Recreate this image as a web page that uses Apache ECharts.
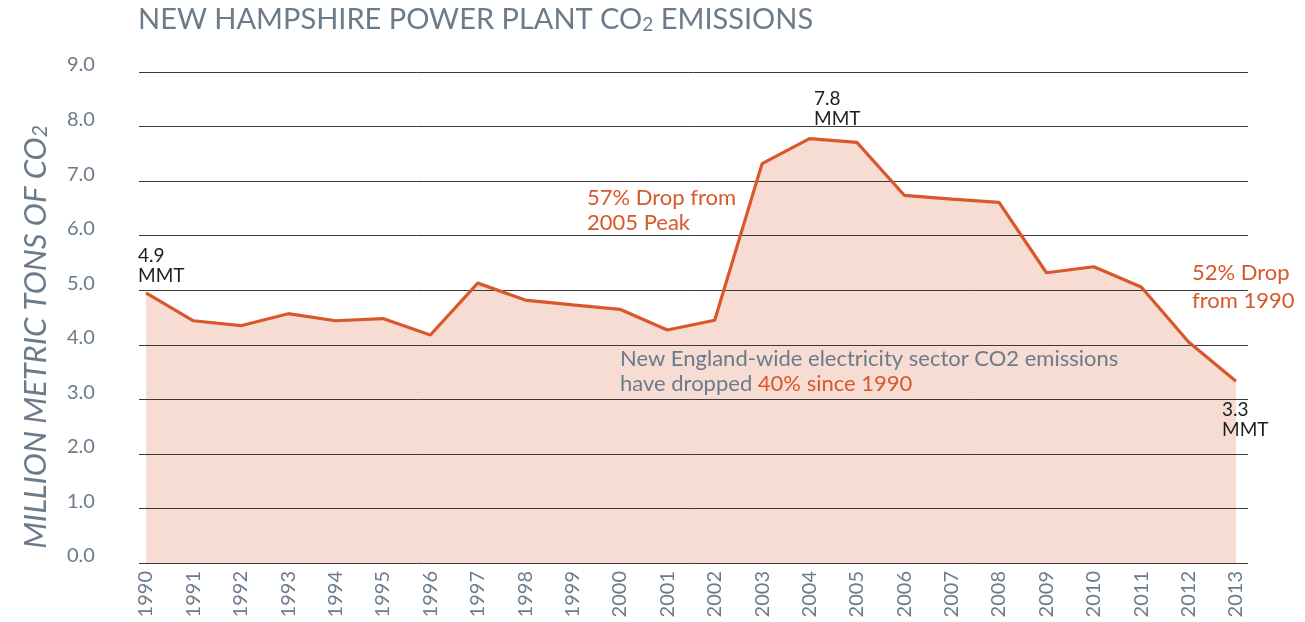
<!DOCTYPE html>
<html>
<head>
<meta charset="utf-8">
<script src="https://cdn.jsdelivr.net/npm/echarts@6/dist/echarts.min.js"></script>
<style>
html,body{margin:0;padding:0;background:#fff;}
#chart{width:1305px;height:622px;}
</style>
</head>
<body>
<div id="chart"></div>
<script>
const years = ['1990','1991','1992','1993','1994','1995','1996','1997','1998','1999','2000','2001','2002','2003','2004','2005','2006','2007','2008','2009','2010','2011','2012','2013'];
const emissions = [4.95, 4.44, 4.35, 4.57, 4.44, 4.48, 4.18, 5.13, 4.82, 4.73, 4.65, 4.27, 4.45, 7.32, 7.78, 7.71, 6.74, 6.67, 6.61, 5.32, 5.43, 5.06, 4.05, 3.33];
const yMin = 0, yMax = 9, yStep = 1;

const GRAY = '#6b7b8a';
const ORANGE = '#d9582b';
const FILL = '#f6dcd3';
const FONT = 'Lato';

const chart = echarts.init(document.getElementById('chart'));
chart.setOption({
  backgroundColor: '#fff',
  animation: false,
  grid: [
    {left: 139, right: 57, top: 72, bottom: 59},
    {left: 146, right: 69, top: 72, bottom: 59}
  ],
  xAxis: [
    {gridIndex: 0, type: 'category', data: years, show: false},
    {gridIndex: 1, type: 'category', data: years, boundaryGap: false,
     axisLine: {show: false}, axisTick: {show: false},
     axisLabel: {rotate: 90, margin: 8, color: GRAY, fontSize: 20, fontFamily: FONT, interval: 0}}
  ],
  yAxis: [
    {gridIndex: 0, type: 'value', min: yMin, max: yMax, interval: yStep, z: 2,
     axisLine: {show: false}, axisTick: {show: false},
     splitLine: {show: true, lineStyle: {color: '#3a3a3a', width: 1}},
     axisLabel: {margin: 0, align: 'right', verticalAlign: 'bottom',
       formatter: v => '{v|' + v.toFixed(1) + '}',
       rich: {v: {width: 72, align: 'left', color: GRAY, fontSize: 20, fontFamily: FONT, lineHeight: 14}}}},
    {gridIndex: 1, type: 'value', min: yMin, max: yMax, interval: yStep, show: false}
  ],
  series: [
    {type: 'line', xAxisIndex: 1, yAxisIndex: 1, data: emissions, z: 1,
     symbol: 'none', lineStyle: {width: 0, opacity: 0},
     areaStyle: {color: FILL, opacity: 1}},
    {type: 'line', xAxisIndex: 1, yAxisIndex: 1, data: emissions, z: 3,
     symbol: 'none', lineStyle: {color: ORANGE, width: 3.2}}
  ],
  graphic: [
    {type: 'text', left: 138, top: 5, z: 10, style: {
      text: '{a|NEW HAMPSHIRE POWER PLANT CO}{b|2}{a| EMISSIONS}',
      rich: {
        a: {fontSize: 29, fontFamily: FONT, fill: GRAY, verticalAlign: 'bottom', lineHeight: 34},
        b: {fontSize: 19, fontFamily: FONT, fill: GRAY, verticalAlign: 'bottom', lineHeight: 34}
      }}},
    {type: 'text', x: 33, y: 337, rotation: Math.PI / 2, z: 10, style: {
      text: '{a|MILLION METRIC TONS OF CO}{b|2}',
      align: 'center', verticalAlign: 'middle',
      rich: {
        a: {fontSize: 31, fontFamily: FONT, fontStyle: 'italic', fill: GRAY, verticalAlign: 'bottom', lineHeight: 36},
        b: {fontSize: 21, fontFamily: FONT, fontStyle: 'italic', fill: GRAY, verticalAlign: 'bottom', lineHeight: 36}
      }}},
    {type: 'text', left: 138, top: 246, z: 10, style: {
      text: '4.9\nMMT', fontSize: 19, lineHeight: 20, fontFamily: FONT, fill: '#1e1e1e'}},
    {type: 'text', left: 814, top: 89, z: 10, style: {
      text: '7.8\nMMT', fontSize: 19, lineHeight: 20, fontFamily: FONT, fill: '#1e1e1e'}},
    {type: 'text', left: 1222, top: 400, z: 10, style: {
      text: '3.3\nMMT', fontSize: 19, lineHeight: 20, fontFamily: FONT, fill: '#1e1e1e'}},
    {type: 'text', left: 587, top: 185, z: 10, style: {
      text: '57% Drop from\n2005 Peak', fontSize: 22, lineHeight: 25, fontFamily: FONT, fill: ORANGE}},
    {type: 'text', left: 1192, top: 259, z: 10, style: {
      text: '52% Drop\nfrom 1990', fontSize: 22, lineHeight: 28, fontFamily: FONT, fill: ORANGE}},
    {type: 'text', left: 620, top: 348, z: 10, style: {
      text: '{g|New England-wide electricity sector CO2 emissions}\n{g|have dropped }{o|40% since 1990}',
      rich: {
        g: {fontSize: 22, lineHeight: 25, fontFamily: FONT, fill: GRAY},
        o: {fontSize: 22, lineHeight: 25, fontFamily: FONT, fill: ORANGE}
      }}}
  ]
});
</script>
</body>
</html>
